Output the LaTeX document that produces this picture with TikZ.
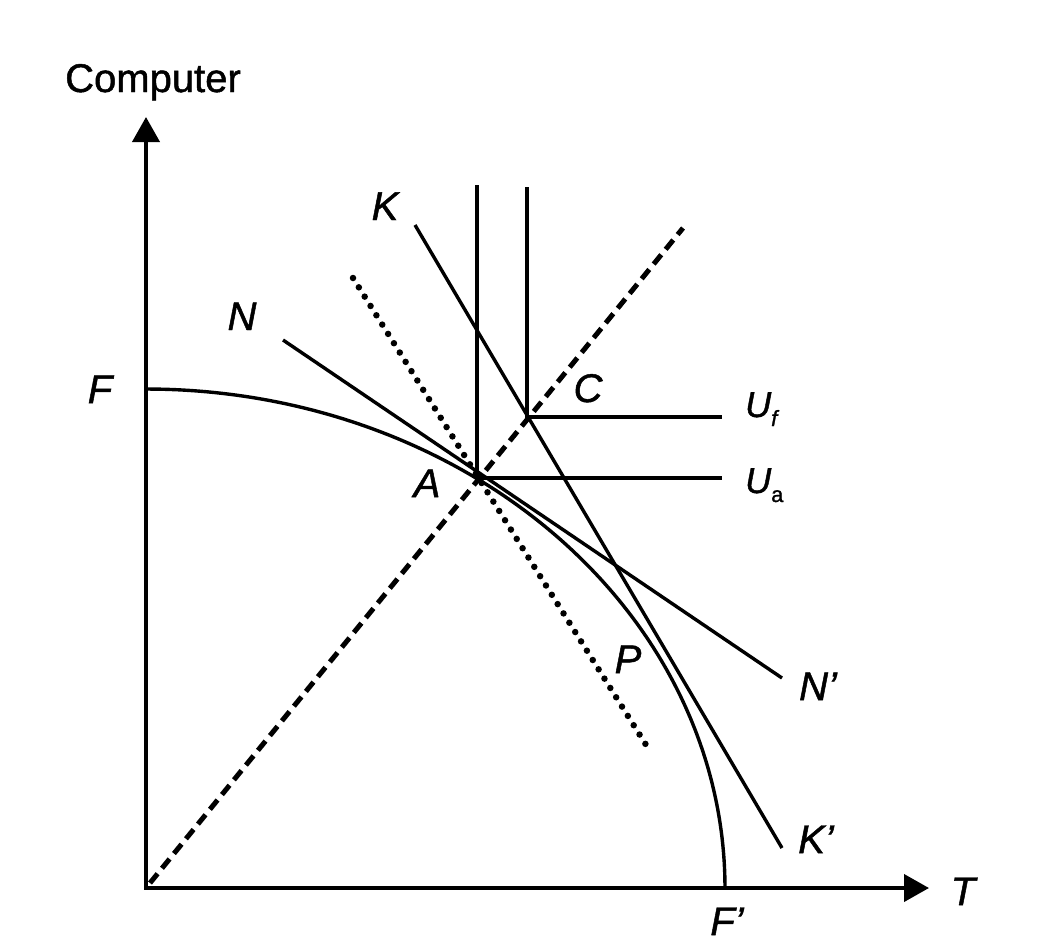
\documentclass[tikz,border=0pt]{standalone}
\usepackage{fontspec}
\setmainfont{Liberation Sans}[FakeBold=1.2]
\usetikzlibrary{arrows.meta}
\begin{document}
\begin{tikzpicture}[x=1pt,y=-1pt,
  axes/.style={line width=4pt, {Triangle[length=25pt,width=27pt]}-{Triangle[length=25pt,width=27pt]}},
  curve/.style={line width=3.4pt},
  dashline/.style={line width=5pt, dash pattern=on 12pt off 7pt},
  dotline/.style={line width=6.5pt, line cap=round, dash pattern=on 0pt off 11pt},
  lab/.style={font=\fontsize{40}{48}\selectfont\itshape, inner sep=0pt, anchor=base},
  uplab/.style={font=\fontsize{40}{48}\selectfont, inner sep=0pt, anchor=base},
  ulab/.style={font=\fontsize{36}{42}\selectfont\itshape, inner sep=0pt, anchor=base west},
]
\useasboundingbox (0,0) rectangle (1056,948);
\fill[white] (0,0) rectangle (1056,948);
% key points
\coordinate (O) at (146,888);
\coordinate (Ytip) at (146,117);
\coordinate (Xtip) at (929,888);
\coordinate (A) at (477,478);
\coordinate (C) at (527,417);
\coordinate (Dstart) at (150,883);
\coordinate (Dend) at (683,228);
\coordinate (UaTop) at (477,185);
\coordinate (UaEnd) at (722,478);
\coordinate (UfTop) at (527,187);
\coordinate (UfEnd) at (722,417);
\coordinate (Ks) at (415,225);
\coordinate (Ke) at (782,848);
\coordinate (Ns) at (283,340);
\coordinate (Ne) at (782,678);
\coordinate (Ds) at (353,278);
\coordinate (De) at (648,748);
% axes
\draw[axes] (Ytip) -- (O) -- (Xtip);
% production frontier
\draw[curve] plot[domain=0:90, samples=150] ({146+579*cos(\x)},{888-499*sin(\x)});
% ray through origin
\draw[dashline] (Dstart) -- (Dend);
% indifference curves
\draw[curve] (UaTop) -- (A) -- (UaEnd);
\draw[curve] (UfTop) -- (C) -- (UfEnd);
% price lines
\draw[curve] (Ks) -- (Ke);
\draw[curve] (Ns) -- (Ne);
\draw[dotline] (Ds) -- (De);
% labels
\node[uplab] (lComp) at (153,92) {Computer};
\node[lab] (lK) at (385,220) {K};
\node[lab] (lN) at (242,330) {N};
\node[lab] (lF) at (100,403) {F};
\node[lab] (lC) at (588,402) {C};
\node[lab] (lA) at (427,497) {A};
\node[lab] (lP) at (628,673) {P};
\node[lab] (lNp) at (818,700) {N'};
\node[lab] (lKp) at (816,853) {K'};
\node[lab] (lFp) at (727,935) {F'};
\node[lab] (lT) at (963,905) {T};
\node[ulab] (lUf) at (745,417) {U\raisebox{-9pt}{\fontsize{22}{22}\selectfont f}};
\node[ulab] (lUa) at (745,493) {U\raisebox{-9pt}{\fontsize{22}{22}\selectfont\upshape a}};
\end{tikzpicture}
\end{document}
